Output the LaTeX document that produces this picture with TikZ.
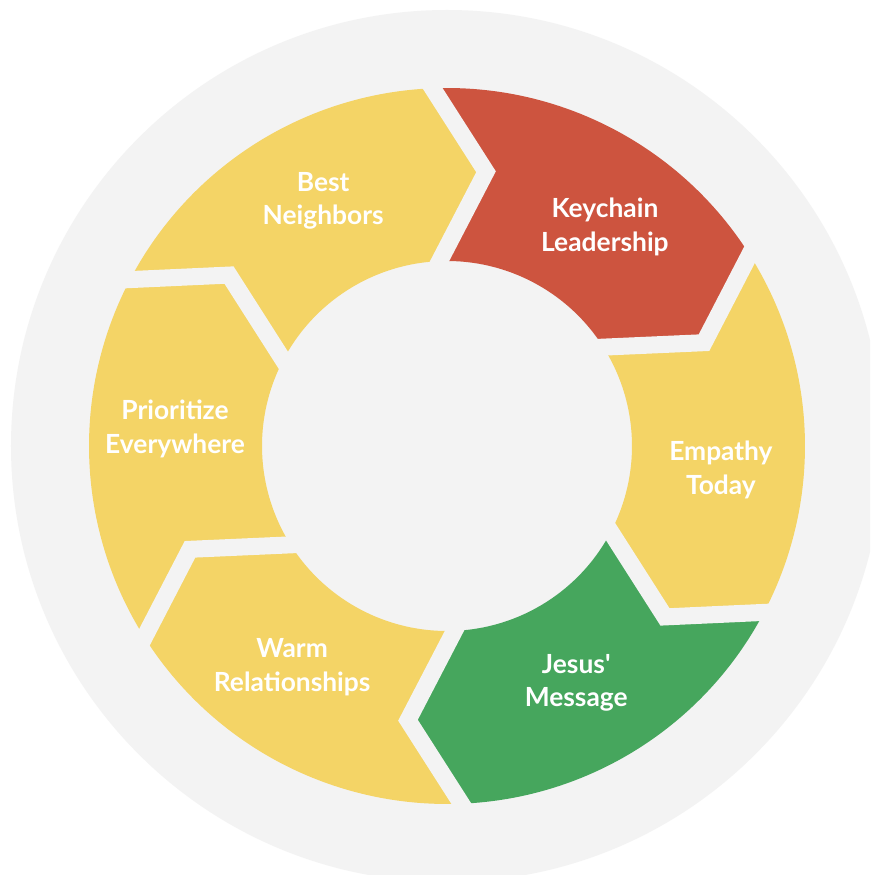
\documentclass[tikz,border=0pt]{standalone}
\usepackage{fontspec}
\setmainfont{Lato}[Ligatures=TeXOff]
\usepackage{tikz}
\usetikzlibrary{calc}
\definecolor{ringgray}{HTML}{F3F3F3}
\definecolor{segyellow}{HTML}{F4D466}
\definecolor{segred}{HTML}{CD543F}
\definecolor{seggreen}{HTML}{46A65D}

\begin{document}
\begin{tikzpicture}[x=0.03cm, y=0.03cm,
    steplabel/.style={text=white, font=\bfseries\fontsize{22.5}{28.5}\selectfont, align=center}]
    \useasboundingbox (-447,-429) rectangle (423,446);
    \fill[white] (-447,-429) rectangle (423,446);
    \begin{scope}
        \clip (-447,-429) rectangle (423,446);
        \fill[ringgray] (0,0) circle[radius=436];
    \end{scope}
    \foreach \b/\col in {92.3/segred, 32.3/segyellow, -27.7/seggreen, -87.7/segyellow, -147.7/segyellow, -207.7/segyellow}{
        \pgfmathsetmacro{\e}{\b-60}
        \fill[\col] (\b:358) arc[start angle=\b, end angle=\e, radius=358] -- (\e-10.4:277) -- (\e:185)
            arc[start angle=\e, end angle=\b, radius=185] -- (\b-10.4:277) -- cycle;
    }
    \foreach \b in {92.3, 32.3, -27.7, -87.7, -147.7, -207.7}{
        \coordinate (gaptip) at (\b-10.4:277);
        \draw[ringgray, line width=0.51cm, line join=miter] ($(gaptip)!1.3!(\b:358)$) -- (gaptip) -- ($(gaptip)!1.3!(\b:185)$);
    }
    \node[steplabel] (keychain) at (54.2:270) {Keychain\\Leadership};
    \node[steplabel] (empathy) at (-5:275) {Empathy\\Today};
    \node[steplabel] (jesus) at (-61.4:270) {Jesus'\\Message};
    \node[steplabel] (warm) at (-125:270) {Warm\\Relationships};
    \node[steplabel] (prioritize) at (176.4:272.5) {Prioritize\\Everywhere};
    \node[steplabel] (neighbors) at (116.8:274.6) {Best\\Neighbors};
\end{tikzpicture}
\end{document}
